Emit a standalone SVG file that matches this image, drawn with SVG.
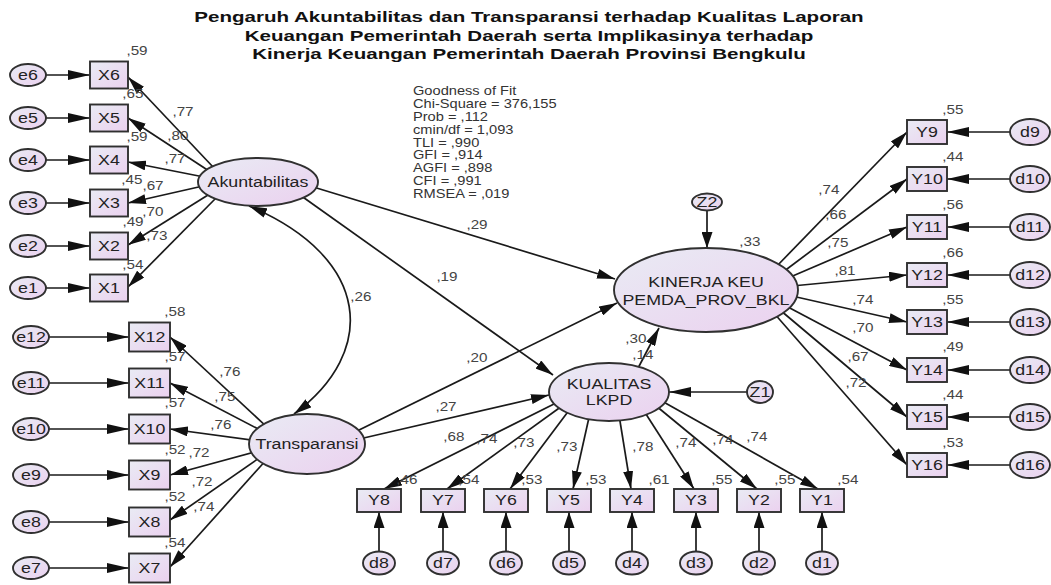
<svg xmlns="http://www.w3.org/2000/svg" width="1051" height="585" viewBox="0 0 1051 585">
<defs>
  <linearGradient id="g" x1="0" y1="0" x2="1" y2="1">
    <stop offset="0" stop-color="#e9ebf4"/>
    <stop offset="1" stop-color="#ebd1ef"/>
  </linearGradient>
  <marker id="arr" markerUnits="userSpaceOnUse" markerWidth="18" markerHeight="10" refX="18" refY="5" orient="auto-start-reverse">
    <path d="M0,0 L18,5 L0,10 z" fill="#111"/>
  </marker>
  <marker id="arrh" markerUnits="userSpaceOnUse" markerWidth="22" markerHeight="10" refX="22" refY="5" orient="auto">
    <path d="M0,0 L22,5 L0,10 z" fill="#111"/>
  </marker>
  <marker id="arrv" markerUnits="userSpaceOnUse" markerWidth="16" markerHeight="11" refX="16" refY="5.5" orient="auto">
    <path d="M0,0 L16,5.5 L0,11 z" fill="#111"/>
  </marker>
</defs>
<style>
  .nd { fill: url(#g); stroke: #303030; stroke-width: 1.9; }
  .ln path { stroke: #1a1a1a; stroke-width: 1.7; fill: none; }
  text { font-family: "Liberation Sans", Arial, sans-serif; transform-box: fill-box; transform-origin: center; transform: scaleX(1.27); }
  .nl { font-size: 14px; fill: #222; text-anchor: middle; dominant-baseline: central; }
  .lb { font-size: 12px; fill: #444; text-anchor: middle; dominant-baseline: central; }
  .ttl { font-size: 15px; font-weight: bold; fill: #111; text-anchor: middle; transform: scaleX(1.37); }
  .gof { font-size: 12px; fill: #333; transform-origin: left center; transform: scaleX(1.22); }
</style>
<rect width="1051" height="585" fill="#ffffff"/>

<!-- title -->
<text class="ttl" x="529"><tspan x="529" y="22.5">Pengaruh Akuntabilitas dan Transparansi terhadap Kualitas Laporan</tspan><tspan x="529" y="41">Keuangan Pemerintah Daerah serta Implikasinya terhadap</tspan><tspan x="529" y="59.5">Kinerja Keuangan Pemerintah Daerah Provinsi Bengkulu</tspan></text>

<!-- fit indices -->
<text class="gof" x="413" y="95"><tspan x="413" y="95">Goodness of Fit</tspan><tspan x="413" y="107.9">Chi-Square = 376,155</tspan><tspan x="413" y="120.8">Prob = ,112</tspan><tspan x="413" y="133.7">cmin/df = 1,093</tspan><tspan x="413" y="146.6">TLI = ,990</tspan><tspan x="413" y="159.5">GFI = ,914</tspan><tspan x="413" y="172.4">AGFI = ,898</tspan><tspan x="413" y="185.3">CFI = ,991</tspan><tspan x="413" y="198.2">RMSEA = ,019</tspan></text>

<!-- connectors -->
<g id="connectors" class="ln">
  <!-- error terms to indicators -->
  <g marker-end="url(#arrh)">
    <path d="M46,75 L90,75"/><path d="M46,118 L90,118"/><path d="M46,160 L90,160"/>
    <path d="M46,203 L90,203"/><path d="M46,246 L90,246"/><path d="M46,288 L90,288"/>
    <path d="M49,337 L129,337"/><path d="M49,383 L129,383"/><path d="M49,429 L129,429"/>
    <path d="M49,475 L129,475"/><path d="M49,522 L129,522"/><path d="M49,568 L129,568"/>
    <path d="M1010,132 L947,132"/><path d="M1010,179 L947,179"/><path d="M1010,227 L947,227"/>
    <path d="M1010,275 L947,275"/><path d="M1010,322 L947,322"/><path d="M1010,370 L947,370"/>
    <path d="M1010,417 L947,417"/><path d="M1010,465 L947,465"/>
    <path d="M747,392 L669,392"/>
  </g>
  <g marker-end="url(#arrv)">
    <path d="M379,551 L379,512"/><path d="M443,551 L443,512"/><path d="M506,551 L506,512"/>
    <path d="M569,551 L569,512"/><path d="M632,551 L632,512"/><path d="M696,551 L696,512"/>
    <path d="M759,551 L759,512"/><path d="M822,551 L822,512"/>
    <path d="M707,210.5 L707,248"/>
  </g>
  <g marker-end="url(#arr)">
    <!-- Akuntabilitas loadings -->
    <path d="M214,168 L128,77"/><path d="M209,171 L128,118"/><path d="M204,177 L128,162"/>
    <path d="M203,186 L128,203"/><path d="M208,195 L128,245"/><path d="M216,198 L128,287"/>
    <!-- Transparansi loadings -->
    <path d="M268,428 L170,337"/><path d="M262,431 L170,383"/><path d="M258,441 L170,429"/>
    <path d="M258,451 L170,475"/><path d="M262,456 L170,520"/><path d="M268,458 L170,567"/>
    <!-- structural paths -->
    <path d="M310,186 L615,279"/><path d="M300,195 L553,375"/>
    <path d="M355,432 L617,303"/><path d="M355,440 L549,395"/>
    <path d="M636,372 L659,328"/>
    <!-- Kinerja loadings -->
    <path d="M775,268 L907,132"/><path d="M783,272 L907,179"/><path d="M788,278 L907,227"/>
    <path d="M792,286 L907,275"/><path d="M792,296 L907,322"/><path d="M786,306 L907,370"/>
    <path d="M780,310 L907,417"/><path d="M773,312 L907,465"/>
    <!-- Kualitas loadings -->
    <path d="M558,402 L384,489"/><path d="M562,406 L447,489"/><path d="M570,409 L510,489"/>
    <path d="M590,413 L573,489"/><path d="M619,415 L631,489"/><path d="M644,411 L694,489"/>
    <path d="M655,405 L757,489"/><path d="M660,400 L818,489"/>
  </g>
  <!-- covariance -->
  <path d="M249,206 C372,258 378,352 294,414" marker-start="url(#arr)" marker-end="url(#arr)"/>
</g>

<!-- latent variables -->
<g id="Akuntabilitas"><ellipse class="nd" cx="258" cy="182" rx="60" ry="24"/><text class="nl" x="258" y="182">Akuntabilitas</text></g>
<g id="Transparansi"><ellipse class="nd" cx="307" cy="444" rx="58" ry="30"/><text class="nl" x="307" y="444">Transparansi</text></g>
<g id="Kinerja"><ellipse class="nd" cx="706" cy="290" rx="92" ry="42"/><text class="nl" x="706" y="282">KINERJA KEU</text><text class="nl" x="706" y="300">PEMDA_PROV_BKL</text></g>
<g id="Kualitas"><ellipse class="nd" cx="609" cy="392" rx="60" ry="29"/><text class="nl" x="609" y="384">KUALITAS</text><text class="nl" x="609" y="400">LKPD</text></g>
<g id="Z2"><ellipse class="nd" cx="707" cy="202" rx="15" ry="8.5"/><text class="nl" x="707" y="202">Z2</text></g>
<g id="Z1"><ellipse class="nd" cx="760" cy="392" rx="13" ry="11"/><text class="nl" x="760" y="392">Z1</text></g>

<!-- Akuntabilitas indicators -->
<g id="e6"><ellipse class="nd" cx="28" cy="75" rx="18" ry="11"/><text class="nl" x="28" y="75">e6</text></g>
<g id="e5"><ellipse class="nd" cx="28" cy="118" rx="18" ry="11"/><text class="nl" x="28" y="118">e5</text></g>
<g id="e4"><ellipse class="nd" cx="28" cy="160" rx="18" ry="11"/><text class="nl" x="28" y="160">e4</text></g>
<g id="e3"><ellipse class="nd" cx="28" cy="203" rx="18" ry="11"/><text class="nl" x="28" y="203">e3</text></g>
<g id="e2"><ellipse class="nd" cx="28" cy="246" rx="18" ry="11"/><text class="nl" x="28" y="246">e2</text></g>
<g id="e1"><ellipse class="nd" cx="28" cy="288" rx="18" ry="11"/><text class="nl" x="28" y="288">e1</text></g>
<g id="X6"><rect class="nd" x="90" y="61.5" width="38" height="27"/><text class="nl" x="109" y="75">X6</text></g>
<g id="X5"><rect class="nd" x="90" y="104.5" width="38" height="27"/><text class="nl" x="109" y="118">X5</text></g>
<g id="X4"><rect class="nd" x="90" y="146.5" width="38" height="27"/><text class="nl" x="109" y="160">X4</text></g>
<g id="X3"><rect class="nd" x="90" y="189.5" width="38" height="27"/><text class="nl" x="109" y="203">X3</text></g>
<g id="X2"><rect class="nd" x="90" y="232.5" width="38" height="27"/><text class="nl" x="109" y="246">X2</text></g>
<g id="X1"><rect class="nd" x="90" y="274.5" width="38" height="27"/><text class="nl" x="109" y="288">X1</text></g>

<!-- Transparansi indicators -->
<g id="e12"><ellipse class="nd" cx="31" cy="337" rx="18" ry="11"/><text class="nl" x="31" y="337">e12</text></g>
<g id="e11"><ellipse class="nd" cx="31" cy="383" rx="18" ry="11"/><text class="nl" x="31" y="383">e11</text></g>
<g id="e10"><ellipse class="nd" cx="31" cy="429" rx="18" ry="11"/><text class="nl" x="31" y="429">e10</text></g>
<g id="e9"><ellipse class="nd" cx="31" cy="475" rx="18" ry="11"/><text class="nl" x="31" y="475">e9</text></g>
<g id="e8"><ellipse class="nd" cx="31" cy="522" rx="18" ry="11"/><text class="nl" x="31" y="522">e8</text></g>
<g id="e7"><ellipse class="nd" cx="31" cy="568" rx="18" ry="11"/><text class="nl" x="31" y="568">e7</text></g>
<g id="X12"><rect class="nd" x="129" y="322.5" width="41" height="29"/><text class="nl" x="149.5" y="337">X12</text></g>
<g id="X11"><rect class="nd" x="129" y="368.5" width="41" height="29"/><text class="nl" x="149.5" y="383">X11</text></g>
<g id="X10"><rect class="nd" x="129" y="414.5" width="41" height="29"/><text class="nl" x="149.5" y="429">X10</text></g>
<g id="X9"><rect class="nd" x="129" y="460.5" width="41" height="29"/><text class="nl" x="149.5" y="475">X9</text></g>
<g id="X8"><rect class="nd" x="129" y="507.5" width="41" height="29"/><text class="nl" x="149.5" y="522">X8</text></g>
<g id="X7"><rect class="nd" x="129" y="553.5" width="41" height="29"/><text class="nl" x="149.5" y="568">X7</text></g>

<!-- Kinerja indicators -->
<g id="Y9"><rect class="nd" x="907" y="120" width="40" height="24"/><text class="nl" x="927" y="132">Y9</text></g>
<g id="Y10"><rect class="nd" x="907" y="167" width="40" height="24"/><text class="nl" x="927" y="179">Y10</text></g>
<g id="Y11"><rect class="nd" x="907" y="215" width="40" height="24"/><text class="nl" x="927" y="227">Y11</text></g>
<g id="Y12"><rect class="nd" x="907" y="263" width="40" height="24"/><text class="nl" x="927" y="275">Y12</text></g>
<g id="Y13"><rect class="nd" x="907" y="310" width="40" height="24"/><text class="nl" x="927" y="322">Y13</text></g>
<g id="Y14"><rect class="nd" x="907" y="358" width="40" height="24"/><text class="nl" x="927" y="370">Y14</text></g>
<g id="Y15"><rect class="nd" x="907" y="405" width="40" height="24"/><text class="nl" x="927" y="417">Y15</text></g>
<g id="Y16"><rect class="nd" x="907" y="453" width="40" height="24"/><text class="nl" x="927" y="465">Y16</text></g>
<g id="d9"><ellipse class="nd" cx="1030" cy="132" rx="20" ry="13"/><text class="nl" x="1030" y="132">d9</text></g>
<g id="d10"><ellipse class="nd" cx="1030" cy="179" rx="20" ry="13"/><text class="nl" x="1030" y="179">d10</text></g>
<g id="d11"><ellipse class="nd" cx="1030" cy="227" rx="20" ry="13"/><text class="nl" x="1030" y="227">d11</text></g>
<g id="d12"><ellipse class="nd" cx="1030" cy="275" rx="20" ry="13"/><text class="nl" x="1030" y="275">d12</text></g>
<g id="d13"><ellipse class="nd" cx="1030" cy="322" rx="20" ry="13"/><text class="nl" x="1030" y="322">d13</text></g>
<g id="d14"><ellipse class="nd" cx="1030" cy="370" rx="20" ry="13"/><text class="nl" x="1030" y="370">d14</text></g>
<g id="d15"><ellipse class="nd" cx="1030" cy="417" rx="20" ry="13"/><text class="nl" x="1030" y="417">d15</text></g>
<g id="d16"><ellipse class="nd" cx="1030" cy="465" rx="20" ry="13"/><text class="nl" x="1030" y="465">d16</text></g>

<!-- Kualitas indicators -->
<g id="Y8"><rect class="nd" x="357" y="489" width="44" height="23"/><text class="nl" x="379" y="500.5">Y8</text></g>
<g id="Y7"><rect class="nd" x="421" y="489" width="44" height="23"/><text class="nl" x="443" y="500.5">Y7</text></g>
<g id="Y6"><rect class="nd" x="484" y="489" width="44" height="23"/><text class="nl" x="506" y="500.5">Y6</text></g>
<g id="Y5"><rect class="nd" x="547" y="489" width="44" height="23"/><text class="nl" x="569" y="500.5">Y5</text></g>
<g id="Y4"><rect class="nd" x="610" y="489" width="44" height="23"/><text class="nl" x="632" y="500.5">Y4</text></g>
<g id="Y3"><rect class="nd" x="674" y="489" width="44" height="23"/><text class="nl" x="696" y="500.5">Y3</text></g>
<g id="Y2"><rect class="nd" x="737" y="489" width="44" height="23"/><text class="nl" x="759" y="500.5">Y2</text></g>
<g id="Y1"><rect class="nd" x="800" y="489" width="44" height="23"/><text class="nl" x="822" y="500.5">Y1</text></g>
<g id="d8"><ellipse class="nd" cx="379" cy="563" rx="16" ry="11.5"/><text class="nl" x="379" y="563">d8</text></g>
<g id="d7"><ellipse class="nd" cx="443" cy="563" rx="16" ry="11.5"/><text class="nl" x="443" y="563">d7</text></g>
<g id="d6"><ellipse class="nd" cx="506" cy="563" rx="16" ry="11.5"/><text class="nl" x="506" y="563">d6</text></g>
<g id="d5"><ellipse class="nd" cx="569" cy="563" rx="16" ry="11.5"/><text class="nl" x="569" y="563">d5</text></g>
<g id="d4"><ellipse class="nd" cx="632" cy="563" rx="16" ry="11.5"/><text class="nl" x="632" y="563">d4</text></g>
<g id="d3"><ellipse class="nd" cx="696" cy="563" rx="16" ry="11.5"/><text class="nl" x="696" y="563">d3</text></g>
<g id="d2"><ellipse class="nd" cx="759" cy="563" rx="16" ry="11.5"/><text class="nl" x="759" y="563">d2</text></g>
<g id="d1"><ellipse class="nd" cx="822" cy="563" rx="16" ry="11.5"/><text class="nl" x="822" y="563">d1</text></g>

<!-- estimates -->
<g id="estimates">
  <text class="lb" x="137" y="51">,59</text><text class="lb" x="133" y="94">,65</text><text class="lb" x="137" y="137">,59</text>
  <text class="lb" x="132" y="180">,45</text><text class="lb" x="133" y="222">,49</text><text class="lb" x="133" y="265">,54</text>
  <text class="lb" x="183" y="112">,77</text><text class="lb" x="178" y="136">,80</text><text class="lb" x="175" y="159">,77</text>
  <text class="lb" x="153" y="186">,67</text><text class="lb" x="153" y="212">,70</text><text class="lb" x="157" y="236">,73</text>

  <text class="lb" x="175" y="312">,58</text><text class="lb" x="175" y="357">,57</text><text class="lb" x="175" y="403">,57</text>
  <text class="lb" x="175" y="450">,52</text><text class="lb" x="175" y="497">,52</text><text class="lb" x="175" y="543">,54</text>
  <text class="lb" x="230" y="372">,76</text><text class="lb" x="225" y="397">,75</text><text class="lb" x="221" y="425">,76</text>
  <text class="lb" x="199" y="453">,72</text><text class="lb" x="202" y="482">,72</text><text class="lb" x="204" y="507">,74</text>

  <text class="lb" x="361" y="297">,26</text>
  <text class="lb" x="477" y="225">,29</text>
  <text class="lb" x="447" y="277">,19</text>
  <text class="lb" x="477" y="358">,20</text>
  <text class="lb" x="446" y="407">,27</text>
  <text class="lb" x="636" y="339">,30</text>
  <text class="lb" x="643" y="355">,14</text>
  <text class="lb" x="750" y="242">,33</text>

  <text class="lb" x="829" y="190">,74</text><text class="lb" x="836" y="215">,66</text><text class="lb" x="838" y="243">,75</text>
  <text class="lb" x="845" y="271">,81</text><text class="lb" x="863" y="300">,74</text><text class="lb" x="863" y="328">,70</text>
  <text class="lb" x="858" y="357">,67</text><text class="lb" x="856" y="383">,72</text>
  <text class="lb" x="953" y="110">,55</text><text class="lb" x="953" y="157">,44</text><text class="lb" x="953" y="205">,56</text>
  <text class="lb" x="953" y="253">,66</text><text class="lb" x="953" y="300">,55</text><text class="lb" x="953" y="347">,49</text>
  <text class="lb" x="953" y="395">,44</text><text class="lb" x="953" y="443">,53</text>

  <text class="lb" x="454" y="437">,68</text><text class="lb" x="487" y="439">,74</text><text class="lb" x="524" y="443">,73</text>
  <text class="lb" x="567" y="447">,73</text><text class="lb" x="643" y="447">,78</text><text class="lb" x="686" y="443">,74</text>
  <text class="lb" x="723" y="440">,74</text><text class="lb" x="757" y="437">,74</text>
  <text class="lb" x="407" y="480">,46</text><text class="lb" x="469" y="480">,54</text><text class="lb" x="532" y="480">,53</text>
  <text class="lb" x="596" y="480">,53</text><text class="lb" x="659" y="480">,61</text><text class="lb" x="722" y="480">,55</text>
  <text class="lb" x="785" y="480">,55</text><text class="lb" x="848" y="480">,54</text>
</g>
</svg>
